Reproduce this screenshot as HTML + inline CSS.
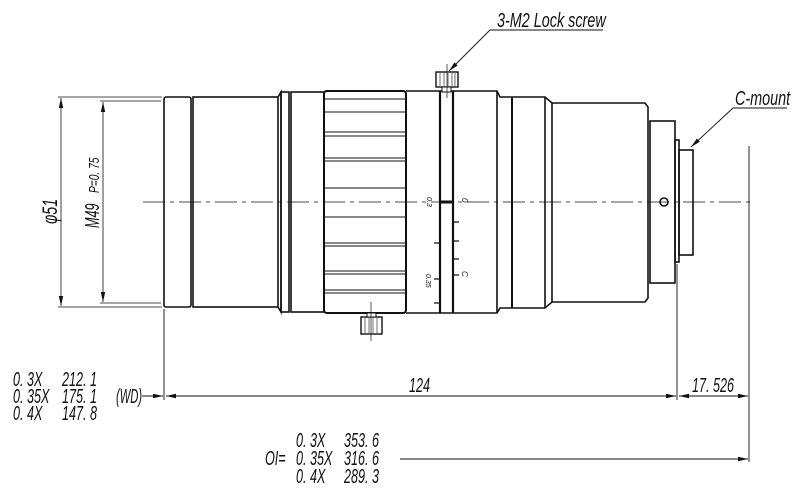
<!DOCTYPE html>
<html><head><style>
html,body{margin:0;padding:0;background:#fff;}
svg{display:block;}
text{font-family:"Liberation Sans",sans-serif;font-style:italic;fill:#111;}
</style></head><body>
<svg width="800" height="489" viewBox="0 0 800 489" xmlns="http://www.w3.org/2000/svg">
<defs>
<marker id="a" markerWidth="10" markerHeight="6" refX="10" refY="3" orient="auto" markerUnits="userSpaceOnUse"><path d="M0,0.8 L10,3 L0,5.2z" fill="#111"/></marker>
<marker id="b" markerWidth="10" markerHeight="6" refX="0" refY="3" orient="auto" markerUnits="userSpaceOnUse"><path d="M10,0.8 L0,3 L10,5.2z" fill="#111"/></marker>
</defs>
<g fill="none" stroke="#111" stroke-width="1.6">
<rect x="164" y="97" width="27" height="210" rx="2"/>
<rect x="193" y="97" width="85" height="210"/>
<path d="M278,97 L281,92 L281,312 L278,307"/>
<rect x="281" y="92" width="8" height="220"/>
<rect x="291" y="92" width="33" height="220"/>
<rect x="324" y="91" width="82" height="222" rx="3" stroke-width="2"/>
<path d="M406,91 L497,91 L500,97 L545,97 L552,103 L645,103 L648,107 L648,298 L645,302 L552,302 L545,308 L500,308 L497,313 L406,313"/>
<line x1="440" y1="91" x2="440" y2="313" stroke-width="2.2"/>
<line x1="453" y1="91" x2="453" y2="313" stroke-width="2.2"/>
<line x1="497" y1="91" x2="497" y2="313"/>
<line x1="512" y1="97" x2="512" y2="308" stroke-width="2"/>
<line x1="545" y1="97" x2="545" y2="308"/>
<line x1="552" y1="103" x2="552" y2="302"/>
<rect x="650" y="121" width="25" height="162"/>
<rect x="675" y="140" width="4" height="122"/>
<rect x="679" y="150" width="14" height="105"/>
<circle cx="664" cy="202" r="4"/>
</g>
<g stroke="#111" stroke-width="1">
<path d="M325,99H405M325,112H405M325,132H405M325,136H405M325,158H405M325,161H405M325,188H405M325,217H405M325,243H405M325,246H405M325,271H405M325,274H405M325,290H405M325,293H405"/>
<rect x="436" y="72" width="22" height="15" fill="#fff" stroke-width="1.4"/>
<path d="M440,73V86M444,73V86M448,73V86M452,73V86M455,73V86" stroke-width="0.6"/>
<rect x="442" y="87" width="9" height="5" fill="#fff"/>
<rect x="361" y="317" width="21" height="17" fill="#fff" stroke-width="1.4"/>
<path d="M365,318V333M369,318V333M373,318V333M377,318V333" stroke-width="0.6"/>
<rect x="367" y="313" width="9" height="4" fill="#fff"/>
<line x1="371" y1="302" x2="371" y2="341" stroke-width="0.7"/>
<line x1="447" y1="64" x2="447" y2="98" stroke-width="0.7"/>
<line x1="143" y1="202" x2="752" y2="202" stroke-dasharray="22,5,4,5" stroke-width="0.8"/>
<path d="M440,202H454" stroke-width="3"/>
<path d="M434,243H440M434,279H440M434,303H440M453,222H459M453,241H459M453,259H459M453,275H459" stroke-width="1.2"/>
<path d="M58,97H162M58,307H162M100,101H161M100,303H161" stroke-width="0.8"/>
<line x1="61" y1="98" x2="61" y2="306" marker-start="url(#b)" marker-end="url(#a)" stroke-width="0.8"/>
<line x1="103" y1="102" x2="103" y2="302" marker-start="url(#b)" marker-end="url(#a)" stroke-width="0.8"/>
<path d="M164,309V400M677,264V400M749,146V462" stroke-width="0.9"/>
<line x1="166" y1="396" x2="676" y2="396" marker-start="url(#b)" marker-end="url(#a)" stroke-width="0.9"/>
<line x1="679" y1="396" x2="748" y2="396" marker-start="url(#b)" marker-end="url(#a)" stroke-width="0.9"/>
<line x1="142" y1="396" x2="163" y2="396" marker-end="url(#a)" stroke-width="0.9"/>
<line x1="400" y1="459" x2="748" y2="459" marker-end="url(#a)" stroke-width="0.9"/>
<path d="M603,30H490L449,71" stroke-width="0.9" fill="none" marker-end="url(#a)"/>
<path d="M787,108H733L691,147" stroke-width="0.9" fill="none" marker-end="url(#a)"/>
</g>
<g font-size="20">
<text transform="translate(497,27) scale(0.72,1)">3-M2 Lock screw</text>
<text transform="translate(735,105) scale(0.72,1)">C-mount</text>
<text transform="translate(409,392) scale(0.63,1)">124</text>
<text transform="translate(692,392) scale(0.63,1)">17. 526</text>
<text transform="translate(116,403) scale(0.56,1)">(WD)</text>
<text transform="translate(13,386) scale(0.63,1)">0. 3X</text><text transform="translate(62,386) scale(0.63,1)">212. 1</text>
<text transform="translate(13,403) scale(0.63,1)">0. 35X</text><text transform="translate(62,403) scale(0.63,1)">175. 1</text>
<text transform="translate(13,420) scale(0.63,1)">0. 4X</text><text transform="translate(62,420) scale(0.63,1)">147. 8</text>
<text transform="translate(296,447) scale(0.63,1)">0. 3X</text><text transform="translate(344,447) scale(0.63,1)">353. 6</text>
<text transform="translate(265,465) scale(0.63,1)">OI=</text>
<text transform="translate(296,465) scale(0.63,1)">0. 35X</text><text transform="translate(344,465) scale(0.63,1)">316. 6</text>
<text transform="translate(296,483) scale(0.63,1)">0. 4X</text><text transform="translate(344,483) scale(0.63,1)">289. 3</text>
<text transform="translate(57,224) rotate(-90) scale(0.68,1)" font-size="21">φ51</text>
<text transform="translate(99,228) rotate(-90) scale(0.63,1)" font-size="20">M49</text>
<text transform="translate(99,193) rotate(-90) scale(0.68,1)" font-size="15">P=0. 75</text>
<text transform="translate(427,197) rotate(90)" font-size="7">0.3</text>
<text transform="translate(426,274) rotate(90)" font-size="7">0.35</text>
<text transform="translate(462,198) rotate(90)" font-size="8">0</text>
<text transform="translate(462,271) rotate(90)" font-size="8">C</text>
</g>
</svg>
</body></html>
